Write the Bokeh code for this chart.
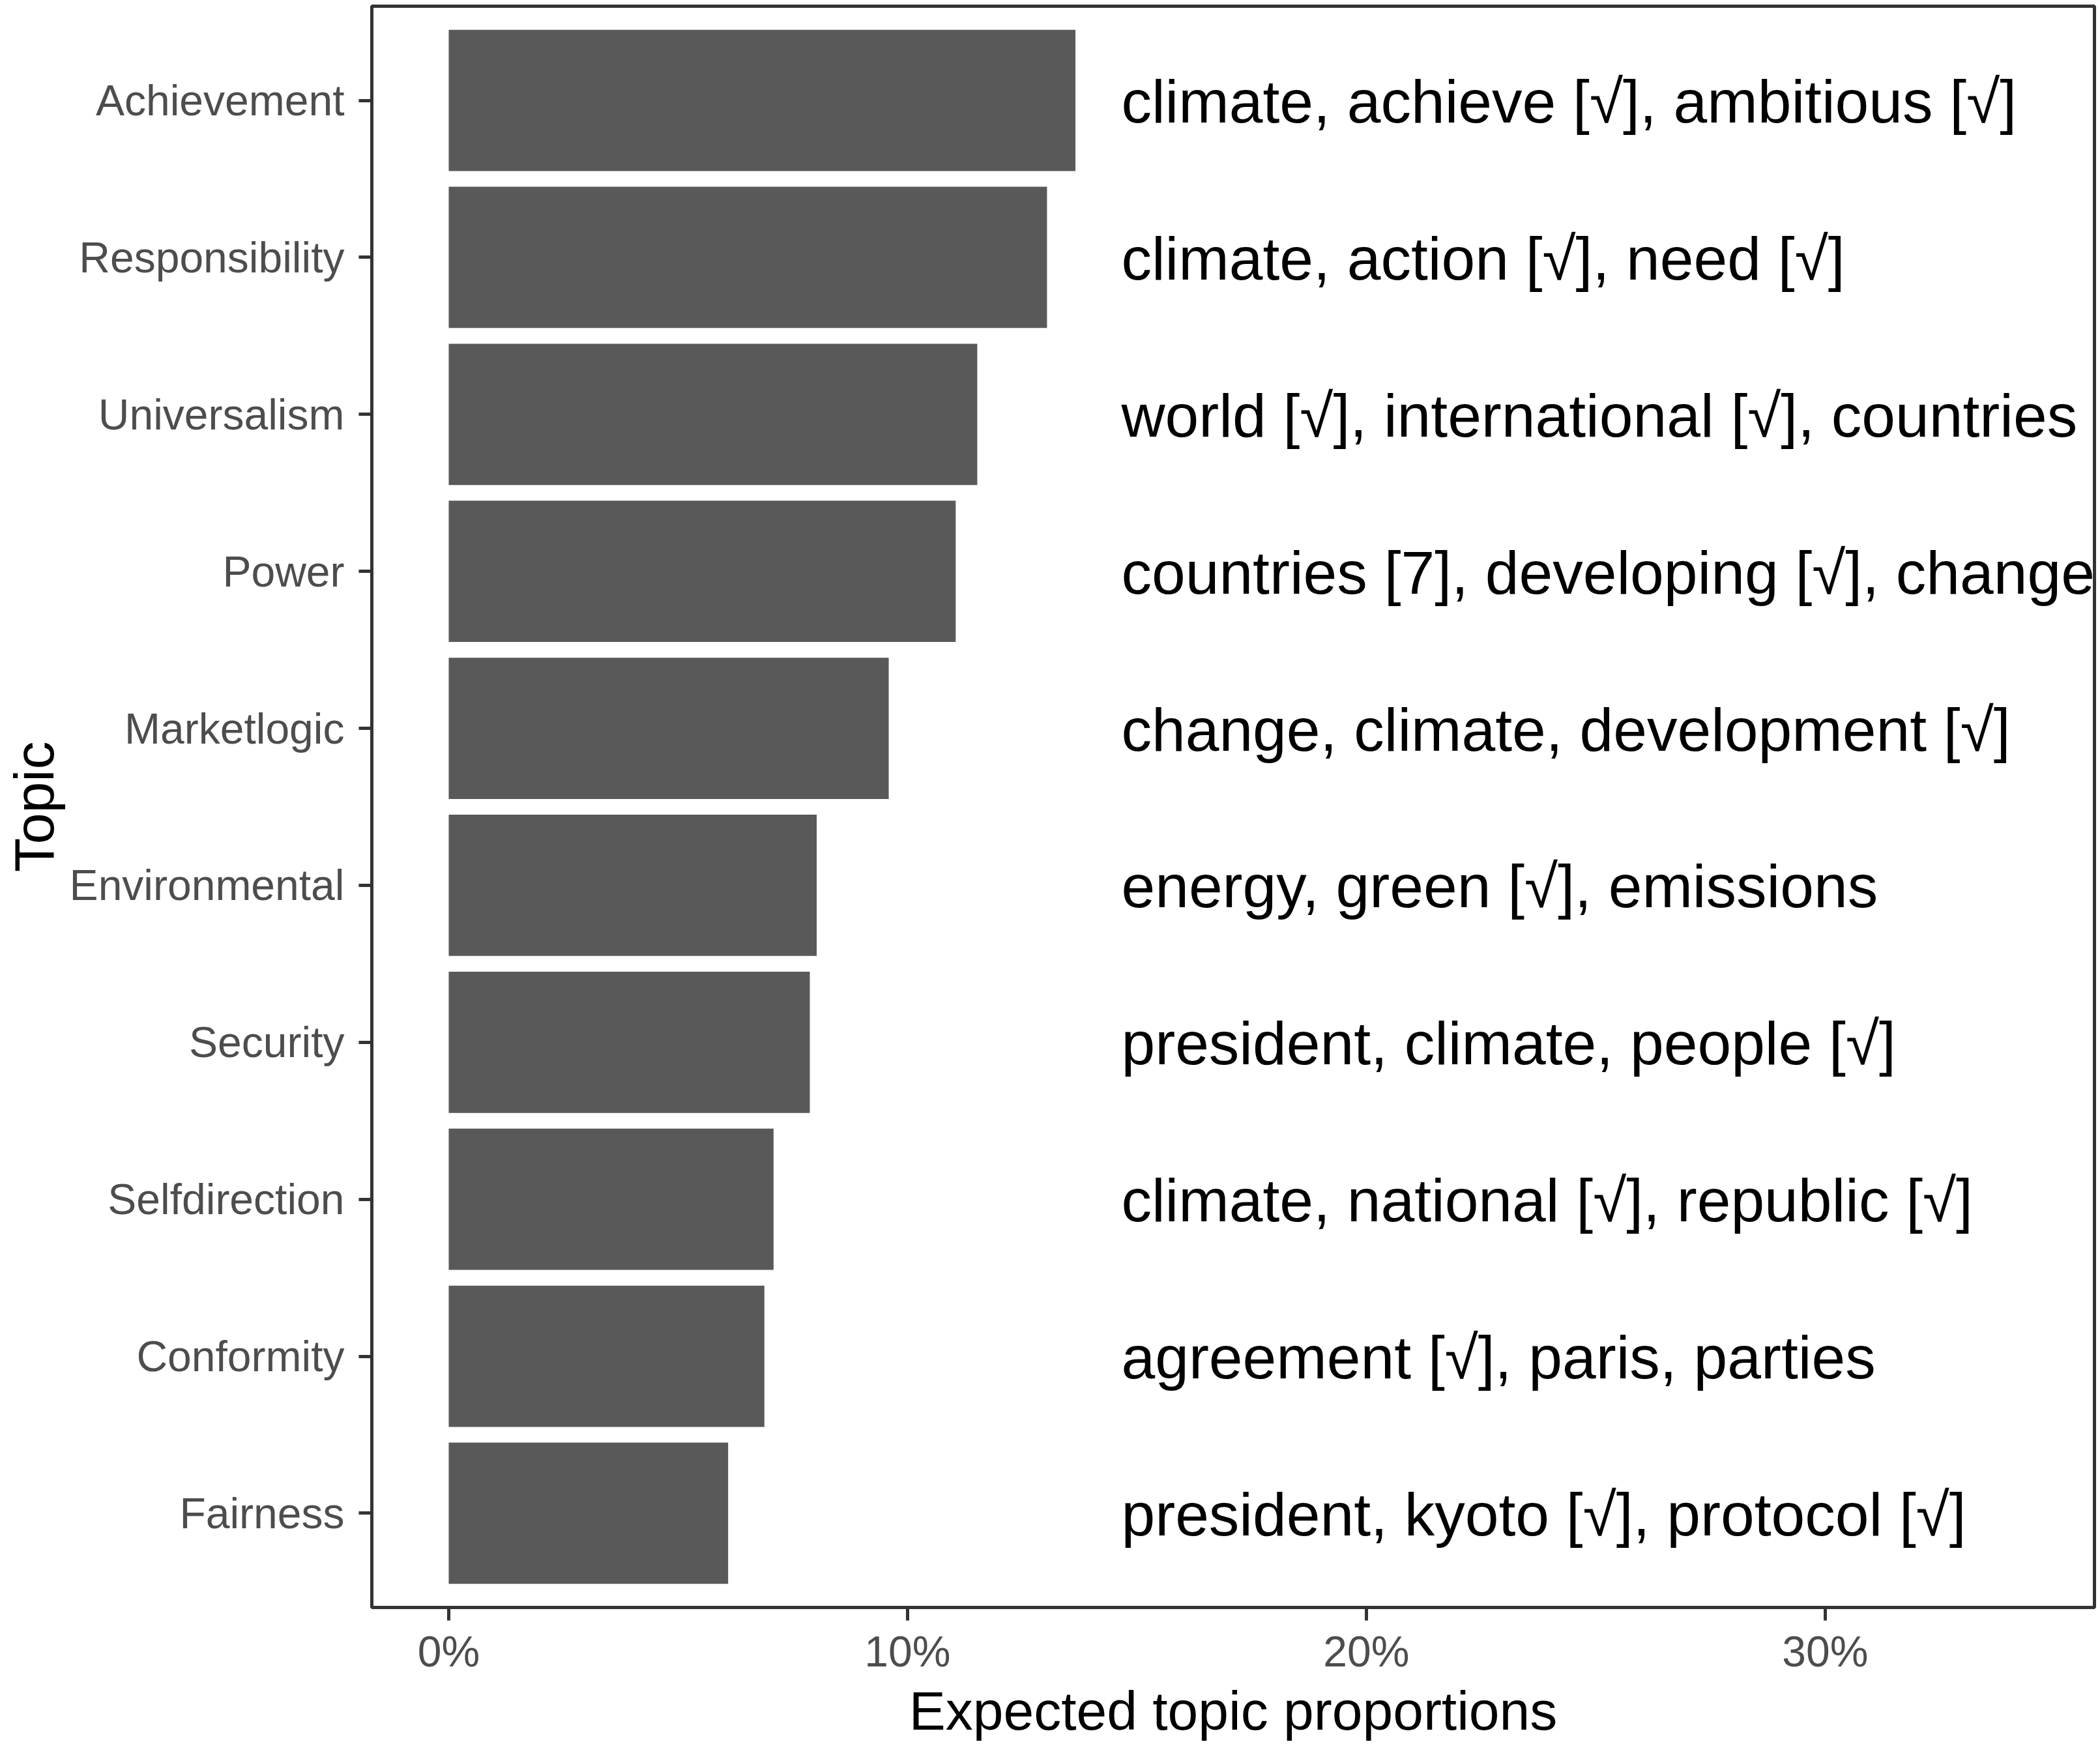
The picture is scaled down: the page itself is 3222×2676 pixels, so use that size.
from bokeh.plotting import figure
from bokeh.models import FactorRange, Range1d, FixedTicker, PrintfTickFormatter, ColumnDataSource
from bokeh.embed import file_html
from bokeh.resources import INLINE
from bokeh.core.properties import value

# ---- data ----
topics = ["Achievement", "Responsibility", "Universalism", "Power", "Marketlogic",
          "Environmental", "Security", "Selfdirection", "Conformity", "Fairness"]
proportions = [13.66, 13.04, 11.52, 11.05, 9.59, 8.02, 7.87, 7.08, 6.88, 6.09]
top_words = [
    "climate, achieve [\u221a], ambitious [\u221a]",
    "climate, action [\u221a], need [\u221a]",
    "world [\u221a], international [\u221a], countries",
    "countries [7], developing [\u221a], change",
    "change, climate, development [\u221a]",
    "energy, green [\u221a], emissions",
    "president, climate, people [\u221a]",
    "climate, national [\u221a], republic [\u221a]",
    "agreement [\u221a], paris, parties",
    "president, kyoto [\u221a], protocol [\u221a]",
]
x_ticks = [0, 10, 20, 30]
x_title = "Expected topic proportions"
y_title = "Topic"

FONT = "Liberation Sans"

src = ColumnDataSource(dict(topic=topics, prop=proportions, words=top_words))

y_range = FactorRange(factors=topics[::-1], range_padding=0.1, range_padding_units="absolute")

p = figure(
    y_range=y_range,
    x_range=Range1d(-1.676, 35.87),
    frame_width=2643, frame_height=2457,
    min_border_left=570, min_border_right=5, min_border_top=9, min_border_bottom=0,
    output_backend="svg", toolbar_location=None,
    x_axis_label=x_title, y_axis_label=y_title,
    background_fill_color="white", border_fill_color="white",
)

p.hbar(y="topic", right="prop", left=0, height=0.9, source=src,
       fill_color="#595959", line_color=None)

p.text(x=max(proportions) + 1.0, y="topic", text="words", source=src,
       text_font=value(FONT), text_font_size="93px",
       text_baseline="middle", text_align="left", text_color="black", y_offset=2)

p.xaxis.ticker = FixedTicker(ticks=x_ticks)
p.xaxis.formatter = PrintfTickFormatter(format="%d%%")

for ax in [p.xaxis[0], p.yaxis[0]]:
    ax.axis_line_color = None
    ax.major_tick_line_color = "#333333"
    ax.major_tick_line_width = 5
    ax.major_tick_out = 20
    ax.major_tick_in = 0
    ax.minor_tick_line_color = None
    ax.major_label_text_font = FONT
    ax.major_label_text_font_size = "66px"
    ax.major_label_text_color = "#4D4D4D"
    ax.axis_label_text_font = FONT
    ax.axis_label_text_font_style = "normal"
    ax.axis_label_text_color = "black"

p.xaxis.major_label_standoff = 10
p.xaxis.axis_label_standoff = 4
p.xaxis.axis_label_text_font_size = "84px"
p.yaxis.major_label_standoff = 22
p.yaxis.axis_label_standoff = 4
p.yaxis.axis_label_text_font_size = "86px"

p.xgrid.visible = False
p.ygrid.visible = False
p.outline_line_color = "#333333"
p.outline_line_width = 5
p.outline_line_alpha = 1.0

open("out.html", "w").write(file_html(p, INLINE))
